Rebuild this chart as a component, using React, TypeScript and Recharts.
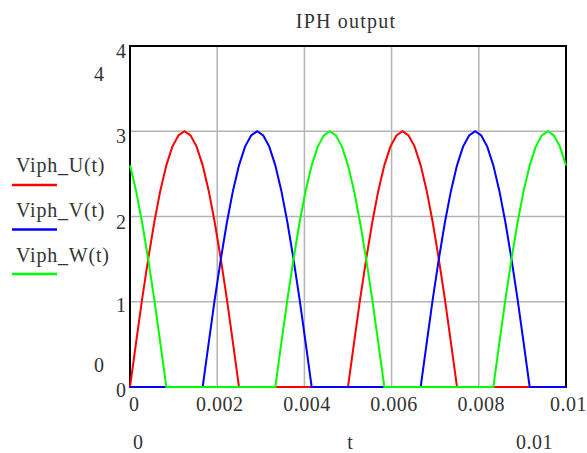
import React from 'react';
import { LineChart, Line, XAxis, YAxis, CartesianGrid, ReferenceArea } from 'recharts';

// samples every 10 degrees of the 200 Hz phase (0.005 s period)
const tValues = [
  0, 0.000139, 0.000278, 0.000417, 0.000556, 0.000694, 0.000833, 0.000972, 0.001111, 0.00125,
  0.001389, 0.001528, 0.001667, 0.001806, 0.001944, 0.002083, 0.002222, 0.002361, 0.0025, 0.002639,
  0.002778, 0.002917, 0.003056, 0.003194, 0.003333, 0.003472, 0.003611, 0.00375, 0.003889, 0.004028,
  0.004167, 0.004306, 0.004444, 0.004583, 0.004722, 0.004861, 0.005, 0.005139, 0.005278, 0.005417,
  0.005556, 0.005694, 0.005833, 0.005972, 0.006111, 0.00625, 0.006389, 0.006528, 0.006667, 0.006806,
  0.006944, 0.007083, 0.007222, 0.007361, 0.0075, 0.007639, 0.007778, 0.007917, 0.008056, 0.008194,
  0.008333, 0.008472, 0.008611, 0.00875, 0.008889, 0.009028, 0.009167, 0.009306, 0.009444, 0.009583,
  0.009722, 0.009861, 0.01,
];

const uValues = [
  0, 0.52, 1.03, 1.5, 1.93, 2.3, 2.6, 2.82, 2.95, 3, 2.95, 2.82, 2.6, 2.3, 1.93, 1.5, 1.03, 0.52,
  0, 0, 0, 0, 0, 0, 0, 0, 0, 0, 0, 0, 0, 0, 0, 0, 0, 0,
  0, 0.52, 1.03, 1.5, 1.93, 2.3, 2.6, 2.82, 2.95, 3, 2.95, 2.82, 2.6, 2.3, 1.93, 1.5, 1.03, 0.52,
  0, 0, 0, 0, 0, 0, 0, 0, 0, 0, 0, 0, 0, 0, 0, 0, 0, 0,
  0,
];

const vValues = [
  0, 0, 0, 0, 0, 0, 0, 0, 0, 0, 0, 0,
  0, 0.52, 1.03, 1.5, 1.93, 2.3, 2.6, 2.82, 2.95, 3, 2.95, 2.82, 2.6, 2.3, 1.93, 1.5, 1.03, 0.52,
  0, 0, 0, 0, 0, 0, 0, 0, 0, 0, 0, 0, 0, 0, 0, 0, 0, 0,
  0, 0.52, 1.03, 1.5, 1.93, 2.3, 2.6, 2.82, 2.95, 3, 2.95, 2.82, 2.6, 2.3, 1.93, 1.5, 1.03, 0.52,
  0, 0, 0, 0, 0, 0, 0,
];

const wValues = [
  2.6, 2.3, 1.93, 1.5, 1.03, 0.52,
  0, 0, 0, 0, 0, 0, 0, 0, 0, 0, 0, 0, 0, 0, 0, 0, 0, 0,
  0, 0.52, 1.03, 1.5, 1.93, 2.3, 2.6, 2.82, 2.95, 3, 2.95, 2.82, 2.6, 2.3, 1.93, 1.5, 1.03, 0.52,
  0, 0, 0, 0, 0, 0, 0, 0, 0, 0, 0, 0, 0, 0, 0, 0, 0, 0,
  0, 0.52, 1.03, 1.5, 1.93, 2.3, 2.6, 2.82, 2.95, 3, 2.95, 2.82, 2.6,
];

const xTicks = [0, 0.002, 0.004, 0.006, 0.008, 0.01];
const xTickLabels = ['0', '0.002', '0.004', '0.006', '0.008', '0.01'];
const yTicks = [0, 1, 2, 3, 4];

const seriesKeys = ['u', 'v', 'w'];
const seriesNames = ['Viph_U(t)', 'Viph_V(t)', 'Viph_W(t)'];
const seriesColors = ['#ff0000', '#0000ff', '#00ff00'];

const data = tValues.map((t, i) => ({ t, u: uValues[i], v: vValues[i], w: wValues[i] }));

const FONT = '"Liberation Serif", "Times New Roman", serif';
const INK = '#333333';

const XTick = (props: any) => {
  const { x, y, index } = props;
  const first = index === 0;
  return (
    <text
      x={first ? x - 1 : x + 2.5}
      y={y + 22}
      textAnchor={first ? 'start' : 'middle'}
      fontFamily={FONT}
      fontSize={20}
      letterSpacing={0.5}
      fill={INK}
    >
      {xTickLabels[index]}
    </text>
  );
};

const YTick = (props: any) => {
  const { x, y, payload } = props;
  const dy = payload.value === 0 ? 10 : payload.value === 1 ? 10.5 : 12;
  return (
    <text x={x - 2} y={y + dy} textAnchor="end" fontFamily={FONT} fontSize={20} fill={INK}>
      {payload.value}
    </text>
  );
};

const App = () => {
  return (
    <div style={{ position: 'absolute', left: 0, top: 0, width: 587, height: 453, background: '#fff' }}>
      <LineChart width={587} height={453} data={data} margin={{ top: 46, right: 21, bottom: 36, left: 100 }}>
        <CartesianGrid stroke="#b4b4b4" strokeWidth={1.5} />
        <ReferenceArea x1={0} x2={0.01} y1={0} y2={4} fill="none" stroke="#000" strokeWidth={2} />
        <XAxis
          dataKey="t"
          type="number"
          domain={[0, 0.01]}
          ticks={xTicks}
          height={30}
          axisLine={false}
          tickLine={false}
          tickSize={0}
          tick={<XTick />}
          interval={0}
        />
        <YAxis
          type="number"
          domain={[0, 4]}
          ticks={yTicks}
          width={30}
          axisLine={false}
          tickLine={false}
          tickSize={0}
          tick={<YTick />}
          interval={0}
        />
        {seriesKeys.map((k, i) => (
          <Line
            key={k}
            type="linear"
            dataKey={k}
            name={seriesNames[i]}
            stroke={seriesColors[i]}
            strokeWidth={2}
            dot={false}
            activeDot={false}
            isAnimationActive={false}
          />
        ))}
      </LineChart>
      <svg width={587} height={453} style={{ position: 'absolute', left: 0, top: 0, pointerEvents: 'none' }}>
        <g fontFamily={FONT} fill={INK}>
          <text x={346} y={28} textAnchor="middle" fontSize={20} letterSpacing={1.2}>IPH output</text>
          {seriesNames.map((name, i) => (
            <g key={name}>
              <text x={16} y={171.5 + i * 45} fontSize={20} letterSpacing={0.8}>{name}</text>
              <line x1={12} x2={57} y1={185 + i * 44.5} y2={185 + i * 44.5} stroke={seriesColors[i]} strokeWidth={2.5} />
            </g>
          ))}
          <text x={99} y={81} textAnchor="middle" fontSize={20}>4</text>
          <text x={99} y={372} textAnchor="middle" fontSize={20}>0</text>
          <text x={138} y={449} textAnchor="middle" fontSize={20}>0</text>
          <text x={350} y={449} textAnchor="middle" fontSize={20}>t</text>
          <text x={534.5} y={449} textAnchor="middle" fontSize={20} letterSpacing={0.5}>0.01</text>
        </g>
      </svg>
    </div>
  );
};

export default App;
